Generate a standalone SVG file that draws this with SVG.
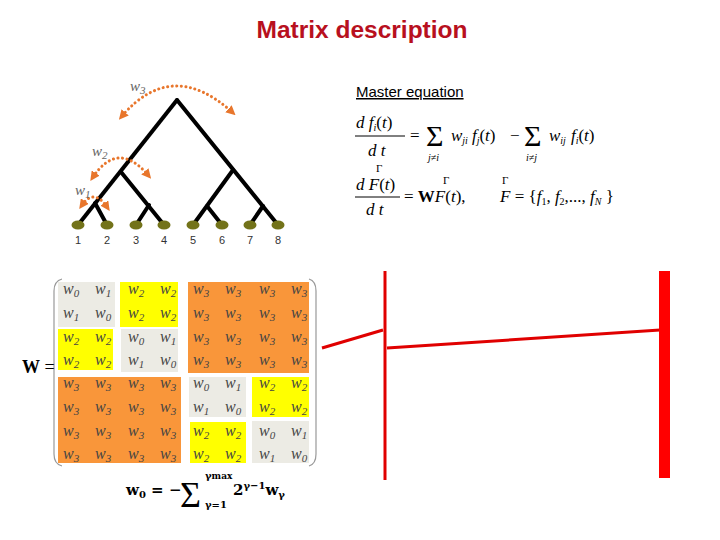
<svg xmlns="http://www.w3.org/2000/svg" width="720" height="540" viewBox="0 0 720 540">
<style>
.title{font-family:"Liberation Sans",Arial,sans-serif;font-size:23px;font-weight:bold;fill:#b8101e;text-anchor:middle}
.lbl{font-family:"Liberation Sans",Arial,sans-serif;font-size:11px;fill:#333;text-anchor:middle}
.hdr{font-family:"Liberation Sans",Arial,sans-serif;font-size:15px;fill:#000;text-decoration:underline}
.eq{font-family:"Liberation Serif","Times New Roman",serif;font-size:17px;fill:#000}
.it{font-style:italic}
.sm{font-size:10px}
.sig{font-family:"Liberation Serif",serif;font-size:30px;fill:#000}
.bar{stroke:#000;stroke-width:1}
.wl{font-family:"Liberation Serif",serif;font-style:italic;font-size:15px;fill:#666}
.m{font-family:"Liberation Serif",serif;font-style:italic;font-size:16px;fill:#444}
.s{font-size:11px}
.edge{stroke:#000;stroke-width:4;stroke-linecap:round;fill:none}
.leaf{fill:#73731a}
.arc{stroke:#e8762c;stroke-width:3;fill:none;stroke-dasharray:0.1 4.5;stroke-linecap:round}
.gray{fill:#ecebe4}.yel{fill:#ffff00}.ora{fill:#f9963a}
.paren{stroke:#999;stroke-width:1.2;fill:none}
.red{stroke:#e00000;stroke-width:3;fill:none}
.bf{font-family:"DejaVu Serif",serif;font-weight:bold;font-size:15px;fill:#000}
</style>
<defs>
<marker id="ah" viewBox="0 0 10 10" refX="5" refY="5" markerWidth="3.2" markerHeight="3.2" orient="auto-start-reverse" markerUnits="strokeWidth">
<path d="M0,0 L10,5 L0,10 z" fill="#e8762c"/>
</marker>
</defs>
<rect width="720" height="540" fill="#fff"/>
<text class="title" x="362" y="38" textLength="211" lengthAdjust="spacingAndGlyphs">Matrix description</text>

<g id="connectors">
<line class="edge" x1="177" y1="100" x2="78" y2="225"/>
<line class="edge" x1="177" y1="100" x2="278" y2="225"/>
<line class="edge" x1="121" y1="172" x2="164" y2="225"/>
<line class="edge" x1="149" y1="205" x2="136" y2="225"/>
<line class="edge" x1="95" y1="203" x2="107" y2="225"/>
<line class="edge" x1="233" y1="170" x2="193" y2="225"/>
<line class="edge" x1="207" y1="206" x2="222" y2="225"/>
<line class="edge" x1="263" y1="206" x2="250" y2="225"/>
</g>

<g id="leaves">
<g id="leaf1"><ellipse class="leaf" cx="78" cy="225" rx="6.5" ry="4.5"/><text class="lbl" x="78" y="244">1</text></g>
<g id="leaf2"><ellipse class="leaf" cx="107" cy="225" rx="6.5" ry="4.5"/><text class="lbl" x="107" y="244">2</text></g>
<g id="leaf3"><ellipse class="leaf" cx="136" cy="225" rx="6.5" ry="4.5"/><text class="lbl" x="136" y="244">3</text></g>
<g id="leaf4"><ellipse class="leaf" cx="164" cy="225" rx="6.5" ry="4.5"/><text class="lbl" x="164" y="244">4</text></g>
<g id="leaf5"><ellipse class="leaf" cx="193" cy="225" rx="6.5" ry="4.5"/><text class="lbl" x="193" y="244">5</text></g>
<g id="leaf6"><ellipse class="leaf" cx="222" cy="225" rx="6.5" ry="4.5"/><text class="lbl" x="222" y="244">6</text></g>
<g id="leaf7"><ellipse class="leaf" cx="250" cy="225" rx="6.5" ry="4.5"/><text class="lbl" x="250" y="244">7</text></g>
<g id="leaf8"><ellipse class="leaf" cx="278" cy="225" rx="6.5" ry="4.5"/><text class="lbl" x="278" y="244">8</text></g>
</g>

<g id="arcs">
<path class="arc" d="M122,116 Q172,58 232,112" marker-start="url(#ah)" marker-end="url(#ah)"/>
<path class="arc" d="M93,177 Q118,140 148,175" marker-start="url(#ah)" marker-end="url(#ah)"/>
<path class="arc" d="M82,205 Q94,188 107,207" marker-start="url(#ah)" marker-end="url(#ah)"/>
<text class="wl" x="130" y="91">w<tspan class="s" dy="3">3</tspan></text>
<text class="wl" x="92" y="156">w<tspan class="s" dy="3">2</tspan></text>
<text class="wl" x="75" y="195">w<tspan class="s" dy="3">1</tspan></text>
</g>

<g id="master">
<text class="hdr" x="356" y="97">Master equation</text>
<text class="eq" x="356" y="128"><tspan class="it">d f</tspan><tspan class="sm it" dy="3">i</tspan><tspan dy="-3">(</tspan><tspan class="it">t</tspan>)</text>
<line class="bar" x1="355" y1="136" x2="405" y2="136"/>
<text class="eq it" x="368" y="156">d t</text>
<text class="eq" x="410" y="141">=</text>
<text class="sig" x="426" y="146">Σ</text>
<text class="eq sm it" x="428" y="161">j≠i</text>
<text class="eq" x="451" y="141"><tspan class="it">w</tspan><tspan class="sm it" dy="3">ji</tspan><tspan class="it" dx="4" dy="-3">f</tspan><tspan class="sm it" dy="3">j</tspan><tspan dy="-3">(</tspan><tspan class="it">t</tspan>)</text>
<text class="eq" x="510" y="141">−</text>
<text class="sig" x="524" y="146">Σ</text>
<text class="eq sm it" x="526" y="161">i≠j</text>
<text class="eq" x="549" y="141"><tspan class="it">w</tspan><tspan class="sm it" dy="3">ij</tspan><tspan class="it" dx="5" dy="-3">f</tspan><tspan class="sm it" dy="3">i</tspan><tspan dy="-3">(</tspan><tspan class="it">t</tspan>)</text>

<text class="eq" x="376" y="172" style="font-size:11px">Γ</text>
<text class="eq" x="356" y="190"><tspan class="it">d F</tspan>(<tspan class="it">t</tspan>)</text>
<line class="bar" x1="355" y1="197" x2="400" y2="197"/>
<text class="eq" x="366" y="215"><tspan class="it">d t</tspan></text>
<text class="eq" x="404" y="202">= <tspan font-weight="bold">W</tspan><tspan class="it">F</tspan>(<tspan class="it">t</tspan>),</text>
<text class="eq" x="443" y="184" style="font-size:11px">Γ</text>
<text class="eq" x="502" y="184" style="font-size:11px">Γ</text>
<text class="eq" x="500" y="202"><tspan class="it">F</tspan> = {<tspan class="it">f</tspan><tspan class="sm" dy="3">1</tspan><tspan dy="-3">, </tspan><tspan class="it">f</tspan><tspan class="sm" dy="3">2</tspan><tspan dy="-3">,..., </tspan><tspan class="it">f</tspan><tspan class="sm it" dy="3">N</tspan><tspan dy="-3"> }</tspan></text>
</g>

<g id="matrix">
<rect class="gray" x="58" y="282" width="57" height="45"/>
<rect class="yel" x="120" y="282" width="58" height="45"/>
<rect class="ora" x="188" y="282" width="121" height="91"/>
<rect class="yel" x="58" y="329" width="55" height="41"/>
<rect class="gray" x="121" y="329" width="57" height="43"/>
<rect class="ora" x="58" y="377" width="123" height="86"/>
<rect class="gray" x="189" y="377" width="57" height="40"/>
<rect class="yel" x="252" y="377" width="57" height="40"/>
<rect class="yel" x="190" y="422" width="56" height="41"/>
<rect class="gray" x="252" y="421" width="57" height="42"/>
<path class="paren" d="M62,279 Q54,281 54,291 L54,454 Q54,464 62,466"/>
<path class="paren" d="M309,279 Q316,281 316,291 L316,454 Q316,464 309,466"/>
<text class="eq" x="22" y="373" style="font-size:18px"><tspan font-weight="bold">W</tspan> =</text>
<g class="m">
<text x="63" y="294">w<tspan class="s" dy="3">0</tspan></text><text x="95" y="294">w<tspan class="s" dy="3">1</tspan></text><text x="128" y="294">w<tspan class="s" dy="3">2</tspan></text><text x="160" y="294">w<tspan class="s" dy="3">2</tspan></text><text x="193" y="294">w<tspan class="s" dy="3">3</tspan></text><text x="225" y="294">w<tspan class="s" dy="3">3</tspan></text><text x="259" y="294">w<tspan class="s" dy="3">3</tspan></text><text x="291" y="294">w<tspan class="s" dy="3">3</tspan></text>
<text x="63" y="318">w<tspan class="s" dy="3">1</tspan></text><text x="95" y="318">w<tspan class="s" dy="3">0</tspan></text><text x="128" y="318">w<tspan class="s" dy="3">2</tspan></text><text x="160" y="318">w<tspan class="s" dy="3">2</tspan></text><text x="193" y="318">w<tspan class="s" dy="3">3</tspan></text><text x="225" y="318">w<tspan class="s" dy="3">3</tspan></text><text x="259" y="318">w<tspan class="s" dy="3">3</tspan></text><text x="291" y="318">w<tspan class="s" dy="3">3</tspan></text>
<text x="63" y="342">w<tspan class="s" dy="3">2</tspan></text><text x="95" y="342">w<tspan class="s" dy="3">2</tspan></text><text x="128" y="342">w<tspan class="s" dy="3">0</tspan></text><text x="160" y="342">w<tspan class="s" dy="3">1</tspan></text><text x="193" y="342">w<tspan class="s" dy="3">3</tspan></text><text x="225" y="342">w<tspan class="s" dy="3">3</tspan></text><text x="259" y="342">w<tspan class="s" dy="3">3</tspan></text><text x="291" y="342">w<tspan class="s" dy="3">3</tspan></text>
<text x="63" y="365">w<tspan class="s" dy="3">2</tspan></text><text x="95" y="365">w<tspan class="s" dy="3">2</tspan></text><text x="128" y="365">w<tspan class="s" dy="3">1</tspan></text><text x="160" y="365">w<tspan class="s" dy="3">0</tspan></text><text x="193" y="365">w<tspan class="s" dy="3">3</tspan></text><text x="225" y="365">w<tspan class="s" dy="3">3</tspan></text><text x="259" y="365">w<tspan class="s" dy="3">3</tspan></text><text x="291" y="365">w<tspan class="s" dy="3">3</tspan></text>
<text x="63" y="388">w<tspan class="s" dy="3">3</tspan></text><text x="95" y="388">w<tspan class="s" dy="3">3</tspan></text><text x="128" y="388">w<tspan class="s" dy="3">3</tspan></text><text x="160" y="388">w<tspan class="s" dy="3">3</tspan></text><text x="193" y="388">w<tspan class="s" dy="3">0</tspan></text><text x="225" y="388">w<tspan class="s" dy="3">1</tspan></text><text x="259" y="388">w<tspan class="s" dy="3">2</tspan></text><text x="291" y="388">w<tspan class="s" dy="3">2</tspan></text>
<text x="63" y="412">w<tspan class="s" dy="3">3</tspan></text><text x="95" y="412">w<tspan class="s" dy="3">3</tspan></text><text x="128" y="412">w<tspan class="s" dy="3">3</tspan></text><text x="160" y="412">w<tspan class="s" dy="3">3</tspan></text><text x="193" y="412">w<tspan class="s" dy="3">1</tspan></text><text x="225" y="412">w<tspan class="s" dy="3">0</tspan></text><text x="259" y="412">w<tspan class="s" dy="3">2</tspan></text><text x="291" y="412">w<tspan class="s" dy="3">2</tspan></text>
<text x="63" y="436">w<tspan class="s" dy="3">3</tspan></text><text x="95" y="436">w<tspan class="s" dy="3">3</tspan></text><text x="128" y="436">w<tspan class="s" dy="3">3</tspan></text><text x="160" y="436">w<tspan class="s" dy="3">3</tspan></text><text x="193" y="436">w<tspan class="s" dy="3">2</tspan></text><text x="225" y="436">w<tspan class="s" dy="3">2</tspan></text><text x="259" y="436">w<tspan class="s" dy="3">0</tspan></text><text x="291" y="436">w<tspan class="s" dy="3">1</tspan></text>
<text x="63" y="459">w<tspan class="s" dy="3">3</tspan></text><text x="95" y="459">w<tspan class="s" dy="3">3</tspan></text><text x="128" y="459">w<tspan class="s" dy="3">3</tspan></text><text x="160" y="459">w<tspan class="s" dy="3">3</tspan></text><text x="193" y="459">w<tspan class="s" dy="3">2</tspan></text><text x="225" y="459">w<tspan class="s" dy="3">2</tspan></text><text x="259" y="459">w<tspan class="s" dy="3">1</tspan></text><text x="291" y="459">w<tspan class="s" dy="3">0</tspan></text>
</g>
</g>

<g id="w0formula">
<text class="bf" x="126" y="495">w<tspan font-size="10" dy="3">0</tspan><tspan dy="-3"> = −</tspan></text>
<text x="180" y="507" style="font-family:'Liberation Serif',serif;font-size:36px;fill:#000">Σ</text>
<text class="bf" x="205" y="479" style="font-size:10px">γ<tspan font-size="9">max</tspan></text>
<text class="bf" x="205" y="508" style="font-size:10px">γ=1</text>
<text class="bf" x="233" y="495">2<tspan font-size="10" dy="-6">γ−1</tspan><tspan dy="6">w</tspan><tspan font-size="10" dy="3">γ</tspan></text>
</g>

<g id="redlines">
<line class="red" x1="385" y1="271" x2="385" y2="480"/>
<line class="red" x1="322" y1="348" x2="383" y2="330"/>
<line class="red" x1="387" y1="348" x2="660" y2="330"/>
<rect x="659" y="271" width="11" height="207" fill="#ff0000"/>
</g>
</svg>
